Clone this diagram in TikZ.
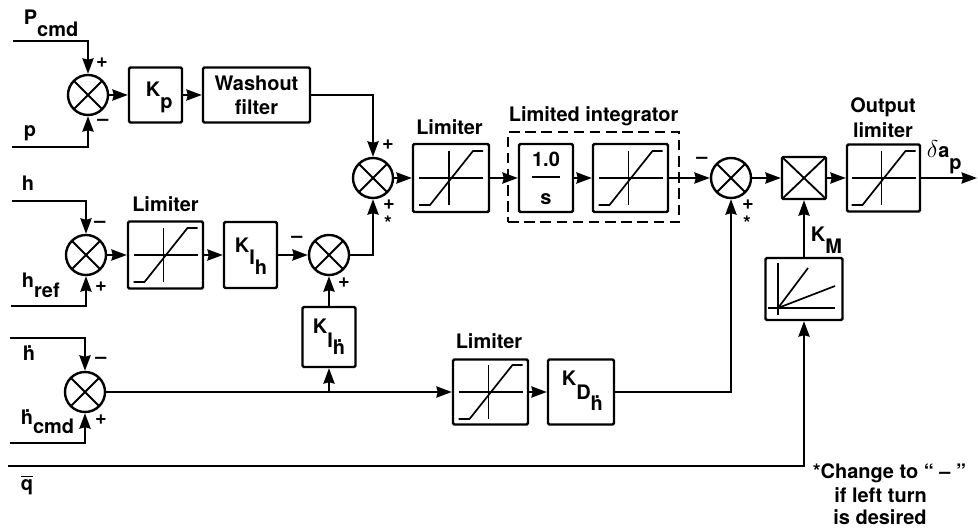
\documentclass[tikz,border=0pt]{standalone}
\usepackage{fontspec}
\usepackage{amsmath}
\setmainfont{TeX Gyre Heros}
\usetikzlibrary{arrows.meta}
\newcommand{\lowtext}[2][8pt]{\raisebox{-#1}{#2}}
\newcommand{\hdotted}{\.h}
\tikzset{
	sized/.style 2 args={minimum width=#1*0.025cm, minimum height=#2*0.025cm},
	blockbox/.style={draw, line width=1.7pt, rounded corners=1pt, inner sep=0pt, align=center},
	sumnode/.style={circle, draw, line width=1.7pt, inner sep=0pt, minimum size=1cm,
		path picture={
			\draw[line width=1.3pt] (path picture bounding box.north west) -- (path picture bounding box.south east);
			\draw[line width=1.3pt] (path picture bounding box.north east) -- (path picture bounding box.south west);
		}},
	mulnode/.style={blockbox, sized={44}{42},
		path picture={
			\draw[line width=1.3pt] (path picture bounding box.north west) -- (path picture bounding box.south east);
			\draw[line width=1.3pt] (path picture bounding box.north east) -- (path picture bounding box.south west);
		}},
	limitbox/.style={blockbox, sized={75}{67}},
	signtext/.style={inner sep=0pt},
	labeltext/.style={inner sep=0pt, anchor=base west},
	titletext/.style={inner sep=0pt, anchor=base},
	pics/limitcurve/.style={code={
		\draw[line width=1.2pt] (-32,0) -- (32,0);
		\draw[line width=1.2pt] (-2,-27) -- (-2,27);
		\draw[line width=1.2pt] (-32,27) -- (-21,27) -- (22,-27) -- (32,-27);
	}}
}
\begin{document}
\begin{tikzpicture}[x=0.025cm, y=-0.025cm, font=\fontsize{14.2}{17}\selectfont\bfseries, line width=1.25pt,
	>={Stealth[length=11pt, width=8pt, inset=1pt]}]
	\useasboundingbox (0,0) rectangle (978,530);

	% Roll command row
	\coordinate (pcmd in) at (13,41);
	\coordinate (p in) at (12,147);
	\node[sumnode] (sum p) at (88,95) {};
	\node[blockbox, sized={53}{55}] (kp box) at (155.5,95) {};
	\node[blockbox, sized={107}{55}] (washout box) at (256.5,95) {Washout\\filter};
	\node[labeltext] (pcmd label) at (23,25) {P\lowtext{cmd}};
	\node[labeltext] (p label) at (23,137) {p};
	\node[labeltext] (kp label) at (145,97) {K\lowtext{p}};
	\node[signtext] (p plus) at (102,63) {+};
	\node[signtext] (p minus) at (103,122) {--};
	\draw[->] (pcmd in) -| (sum p);
	\draw[->] (p in) -| (sum p);
	\draw[->] (sum p) -- (kp box);
	\draw[->] (kp box) -- (washout box);

	% Altitude row
	\coordinate (h in) at (12,201);
	\coordinate (href in) at (11,306);
	\node[sumnode] (sum h) at (86,255) {};
	\node[limitbox] (limiter a) at (165.5,255) {};
	\pic at (limiter a) {limitcurve};
	\node[blockbox, sized={53}{66}] (kih box) at (250.5,255) {};
	\node[sumnode] (sum i) at (329,255) {};
	\node[labeltext] (h label) at (21,191) {h};
	\node[labeltext] (href label) at (21,288) {h\lowtext[6.5pt]{ref}};
	\node[titletext] (limiter a label) at (165.5,212) {Limiter};
	\node[labeltext] (kih label) at (234,253) {K\lowtext[8.5pt]{I}\lowtext[15.5pt]{h}};
	\node[signtext] (h minus) at (100,224) {--};
	\node[signtext] (h plus) at (101,287) {+};
	\node[signtext] (i minus) at (297,239) {--};
	\node[signtext] (i plus) at (344,283) {+};
	\draw[->] (h in) -| (sum h);
	\draw[->] (href in) -| (sum h);
	\draw[->] (sum h) -- (limiter a);
	\draw[->] (limiter a) -- (kih box);
	\draw[->] (kih box) -- (sum i);

	% Middle row
	\node[sumnode] (sum a) at (373,178) {};
	\node[limitbox, sized={76}{68}] (limiter b) at (451,178) {};
	\pic at (limiter b) {limitcurve};
	\node[blockbox, sized={54}{68}] (integ box) at (546,178) {\raisebox{0pt}{$\genfrac{}{}{1.3pt}{0}{\mbox{1.0}\rule[-3pt]{0pt}{1pt}}{\rule{0pt}{15pt}\mbox{s}}$}};
	\node[limitbox, sized={75}{68}] (limiter c) at (630.5,178) {};
	\pic at (limiter c) {limitcurve};
	\node[draw, line width=1.3pt, dash pattern=on 7.5pt off 4pt, inner sep=0pt, sized={171}{90}] (integ frame) at (593.5,177) {};
	\node[sumnode] (sum b) at (731,178) {};
	\node[mulnode] (mul box) at (804,178) {};
	\node[limitbox, sized={73}{67}] (limiter d) at (883.5,178) {};
	\pic at (limiter d) {limitcurve};
	\coordinate (out end) at (977,178);
	\node[titletext] (limiter b label) at (449.5,135) {Limiter};
	\node[labeltext] (integ label) at (508,122) {Limited integrator};
	\node[titletext] (output label a) at (883,113) {Output};
	\node[titletext] (output label b) at (883,138) {limiter};
	\node[labeltext] (delta label) at (926,158) {{\fontsize{18}{18}\selectfont$\delta$}a\lowtext{p}};
	\node[signtext] (a plus) at (388,145) {+};
	\node[signtext] (a plus b) at (389,205) {+};
	\node[signtext] (a star) at (388,223) {*};
	\node[signtext] (b minus) at (702,160) {--};
	\node[signtext] (b plus) at (748,205) {+};
	\node[signtext] (b star) at (747,223) {*};
	\draw[->] (washout box) -| (sum a);
	\draw[->] (sum i) -| (sum a);
	\draw[->] (sum a) -- (limiter b);
	\draw[->] (limiter b) -- (integ box);
	\draw[->] (integ box) -- (limiter c);
	\draw[->] (limiter c) -- (sum b);
	\draw[->] (sum b) -- (mul box);
	\draw[->] (mul box) -- (limiter d);
	\draw[->] (limiter d) -- (out end);

	% Rate row
	\coordinate (hdot in) at (10,338);
	\coordinate (hdotcmd in) at (10,443);
	\node[sumnode] (sum r) at (85,392) {};
	\coordinate (rate tap) at (329,392);
	\node[blockbox, sized={53}{60}] (kidot box) at (329,337) {};
	\node[limitbox, sized={75}{65}] (limiter e) at (490.5,392) {};
	\pic at (limiter e) {limitcurve};
	\node[blockbox, sized={66}{65}] (kd box) at (581,392) {};
	\node[labeltext] (hdot label) at (22,361) {\hdotted};
	\node[labeltext] (hdotcmd label) at (20,424) {\hdotted\lowtext[7pt]{cmd}};
	\node[labeltext] (kidot label) at (312,333) {K\lowtext[10.5pt]{I}\lowtext[15pt]{\hdotted}};
	\node[labeltext] (kd label) at (561,385) {K\lowtext[10.5pt]{D}\lowtext[18pt]{\hdotted}};
	\node[titletext] (limiter e label) at (489,349) {Limiter};
	\node[signtext] (r minus) at (101,360) {--};
	\node[signtext] (r plus) at (101,420) {+};
	\draw[->] (hdot in) -| (sum r);
	\draw[->] (hdotcmd in) -| (sum r);
	\draw[->] (sum r) -- (limiter e);
	\draw[->] (rate tap) -- (kidot box);
	\draw[->] (kidot box) -- (sum i);
	\draw[->] (limiter e) -- (kd box);
	\draw[->] (kd box) -| (sum b);

	% Gain schedule
	\coordinate (q in) at (8,466);
	\node[blockbox, sized={77}{62}] (km box) at (804,289) {};
	\draw[line width=1.2pt] (778,263) -- (778,315);
	\draw[line width=1.2pt] (768,308) -- (835,308);
	\draw[line width=1.2pt] (778,308) -- (808,268);
	\draw[line width=1.2pt] (778,308) -- (835,286);
	\node[labeltext] (q label) at (20,490) {$\overline{\mbox{q}}$};
	\node[labeltext] (km label) at (810,242) {K\lowtext{M}};
	\node[labeltext] (note a) at (812,478) {*Change to “ -- ”};
	\node[titletext] (note b) at (880.5,502) {if left turn};
	\node[titletext] (note c) at (880,524) {is desired};
	\draw[->] (km box) -- (mul box);
	\draw[->] (q in) -| (km box);
\end{tikzpicture}
\end{document}
